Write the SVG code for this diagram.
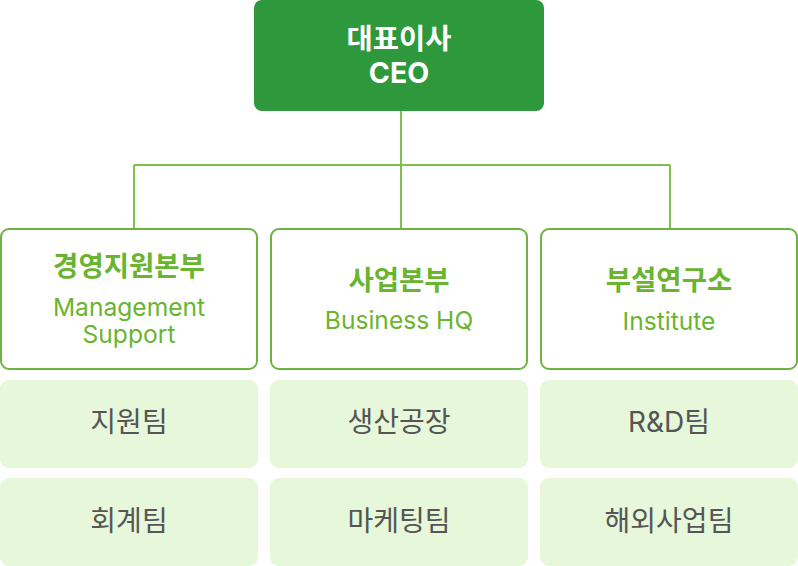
<svg xmlns="http://www.w3.org/2000/svg" width="798" height="566" viewBox="0 0 798 566">
<style>
.ceo{fill:#2E983C}
.div{fill:#fff;stroke:#6CB33F;stroke-width:2}
.team{fill:#E6F7DA}
.conn{fill:none;stroke:#7DC14A;stroke-width:2}
text{font-family:"Inter","Noto Sans CJK KR",sans-serif;text-anchor:middle}
.ct{fill:#fff;font-weight:700;font-size:28.5px}
.dh{fill:#6AB42F;font-weight:700;font-size:27.5px}
.de{fill:#6AB42F;font-size:24.6px}
.tt{fill:#555;font-size:28px}
</style>
<g id="connectors">
<path class="conn" d="M401 111V229M134 165H670M134 165V229M670 165V229"/>
</g>
<g id="ceo">
<rect class="ceo" x="254" y="0" width="290" height="111" rx="8"/>
<text class="ct" x="399" y="49">대표이사</text>
<text class="ct" x="399" y="83">CEO</text>
</g>
<g id="management">
<rect class="div" x="1" y="229" width="256" height="140" rx="8"/>
<text class="dh" x="129" y="276">경영지원본부</text>
<text class="de" x="129" y="316">Management</text>
<text class="de" x="129" y="343">Support</text>
</g>
<g id="business">
<rect class="div" x="271" y="229" width="256" height="140" rx="8"/>
<text class="dh" x="399" y="290">사업본부</text>
<text class="de" x="399" y="329">Business HQ</text>
</g>
<g id="institute">
<rect class="div" x="541" y="229" width="256" height="140" rx="8"/>
<text class="dh" x="669" y="290">부설연구소</text>
<text class="de" x="669" y="330">Institute</text>
</g>
<g id="team-support">
<rect class="team" x="0" y="380" width="258" height="88" rx="9"/>
<text class="tt" x="129" y="432">지원팀</text>
</g>
<g id="team-accounting">
<rect class="team" x="0" y="478" width="258" height="88" rx="9"/>
<text class="tt" x="129" y="531">회계팀</text>
</g>
<g id="team-factory">
<rect class="team" x="270" y="380" width="258" height="88" rx="9"/>
<text class="tt" x="399" y="432">생산공장</text>
</g>
<g id="team-marketing">
<rect class="team" x="270" y="478" width="258" height="88" rx="9"/>
<text class="tt" x="399" y="531">마케팅팀</text>
</g>
<g id="team-rnd">
<rect class="team" x="540" y="380" width="258" height="88" rx="9"/>
<text class="tt" x="669" y="432">R&amp;D팀</text>
</g>
<g id="team-overseas">
<rect class="team" x="540" y="478" width="258" height="88" rx="9"/>
<text class="tt" x="669" y="531">해외사업팀</text>
</g>
</svg>
